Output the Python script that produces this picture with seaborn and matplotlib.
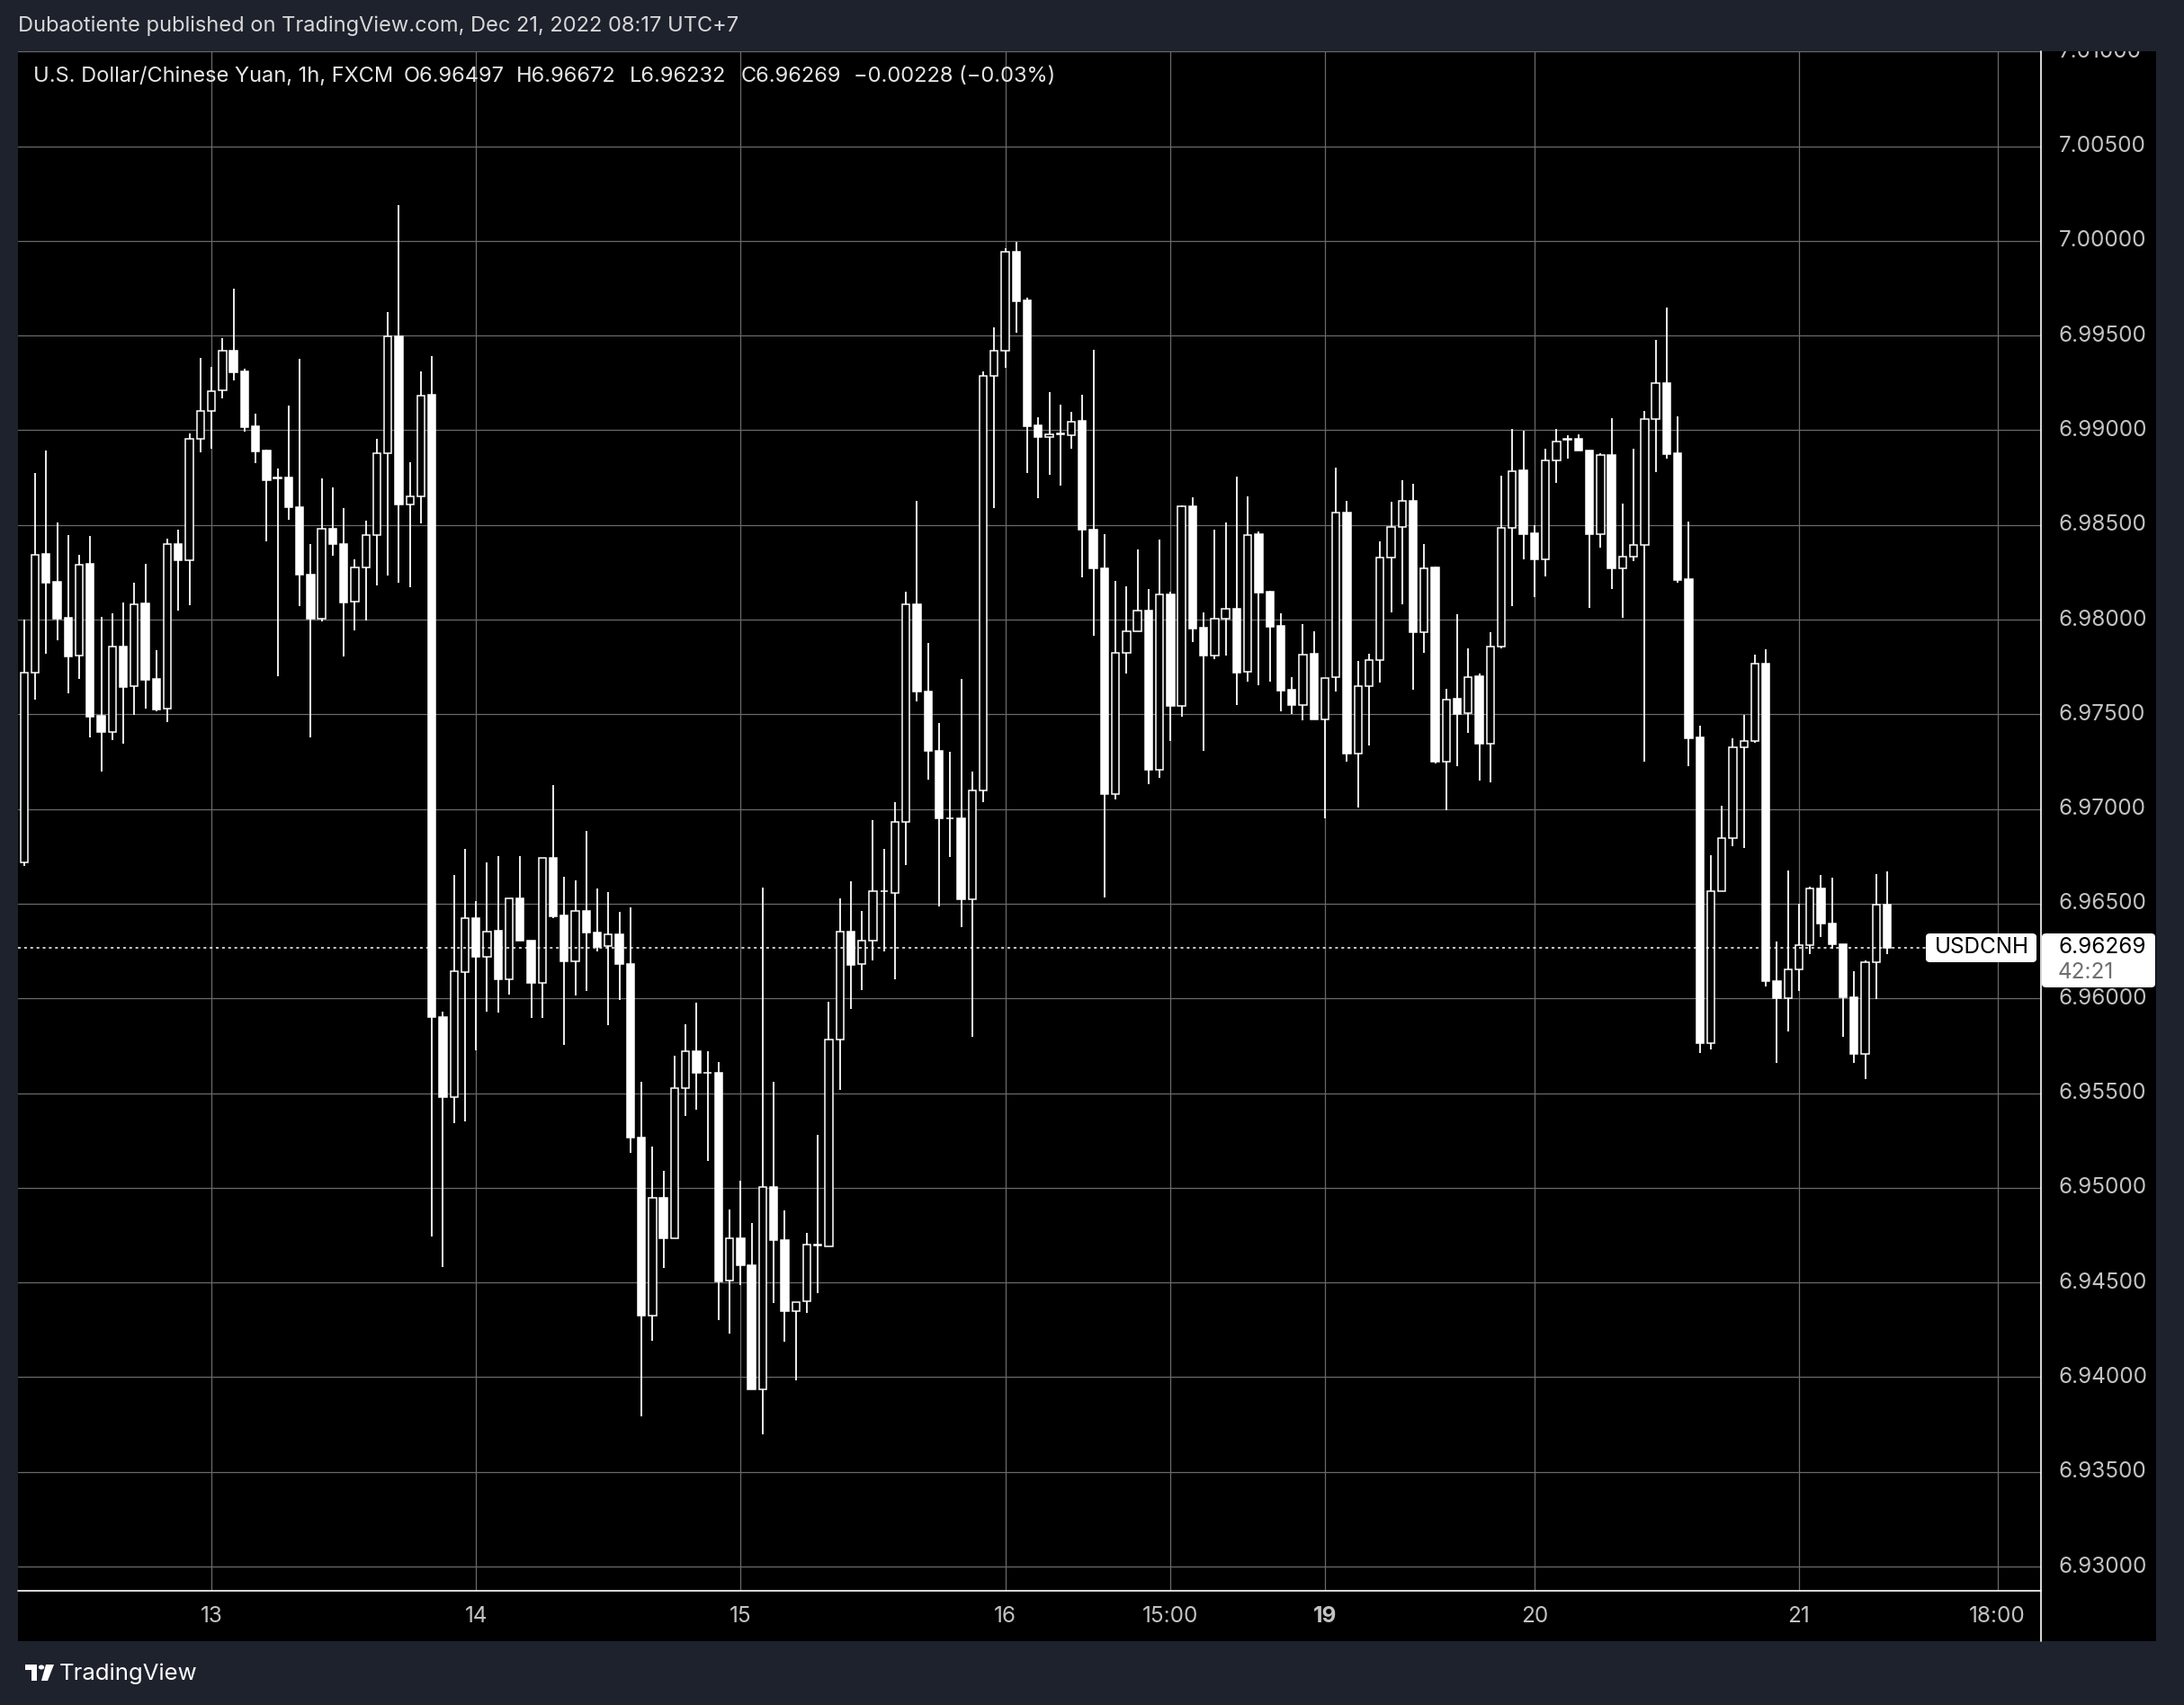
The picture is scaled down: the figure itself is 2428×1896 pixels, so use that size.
import numpy as np
import pandas as pd
import seaborn as sns
import matplotlib.pyplot as plt
from matplotlib.patches import Rectangle, FancyBboxPatch, Circle, Polygon
from matplotlib.transforms import blended_transform_factory

# USDCNH 1h candles, Dec 12 07:00 .. Dec 21 08:00 (UTC+7)
opens = [6.96720, 6.97719, 6.98347, 6.98200, 6.98009, 6.97808, 6.98295, 6.97491, 6.97408, 6.97860,
         6.97650, 6.98085, 6.97686, 6.97528, 6.98398, 6.98315, 6.98955, 6.99101, 6.99210, 6.99418,
         6.99312, 6.99022, 6.98894, 6.98746, 6.98751, 6.98594, 6.98239, 6.98005, 6.98480, 6.98400,
         6.98095, 6.98276, 6.98446, 6.98878, 6.99495, 6.98607, 6.98650, 6.99186, 6.95901, 6.95478,
         6.96139, 6.96423, 6.96218, 6.96357, 6.96099, 6.96526, 6.96305, 6.96080, 6.96741, 6.96439,
         6.96196, 6.96463, 6.96349, 6.96275, 6.96338, 6.96180, 6.95267, 6.94327, 6.94948, 6.94735,
         6.95527, 6.95722, 6.95606, 6.95606, 6.94508, 6.94731, 6.94593, 6.93937, 6.95005, 6.94725,
         6.94347, 6.94400, 6.94696, 6.94690, 6.95785, 6.96354, 6.96180, 6.96303, 6.96565, 6.96556,
         6.96930, 6.98081, 6.97618, 6.97309, 6.96949, 6.96949, 6.96522, 6.97096, 6.99289, 6.99419,
         6.99944, 6.99688, 6.99024, 6.98966, 6.98980, 6.98973, 6.99051, 6.98475, 6.98271, 6.97079,
         6.97825, 6.97938, 6.98048, 6.97205, 6.98133, 6.97543, 6.98597, 6.97955, 6.97811, 6.98005,
         6.98058, 6.97723, 6.98449, 6.98147, 6.97966, 6.97628, 6.97549, 6.97818, 6.97473, 6.97695,
         6.98563, 6.97292, 6.97649, 6.97788, 6.98326, 6.98491, 6.98628, 6.97934, 6.98274, 6.97250,
         6.97581, 6.97505, 6.97700, 6.97347, 6.97859, 6.98486, 6.98786, 6.98454, 6.98318, 6.98842,
         6.98951, 6.98955, 6.98895, 6.98452, 6.98870, 6.98269, 6.98332, 6.98394, 6.99059, 6.99251,
         6.98877, 6.98212, 6.97378, 6.95765, 6.96565, 6.96844, 6.97326, 6.97360, 6.97769, 6.96092,
         6.96000, 6.96153, 6.96281, 6.96580, 6.96396, 6.96284, 6.96006, 6.95707, 6.96192, 6.96497]
highs = [6.98000, 6.98773, 6.98894, 6.98513, 6.98447, 6.98342, 6.98442, 6.98014, 6.98033, 6.98090,
         6.98193, 6.98293, 6.97838, 6.98426, 6.98475, 6.98985, 6.99382, 6.99335, 6.99487, 6.99748,
         6.99324, 6.99088, 6.98897, 6.98798, 6.99131, 6.99375, 6.98400, 6.98746, 6.98698, 6.98591,
         6.98319, 6.98523, 6.98956, 6.99622, 7.00191, 6.98830, 6.99312, 6.99390, 6.95930, 6.96653,
         6.96788, 6.96515, 6.96719, 6.96752, 6.96530, 6.96752, 6.96305, 6.96741, 6.97126, 6.96643,
         6.96624, 6.96885, 6.96581, 6.96562, 6.96458, 6.96480, 6.95558, 6.95216, 6.95088, 6.95696,
         6.95862, 6.95976, 6.95720, 6.95663, 6.94885, 6.95036, 6.94814, 6.96587, 6.95558, 6.94879,
         6.94396, 6.94760, 6.95279, 6.95982, 6.96530, 6.96618, 6.96463, 6.96941, 6.96787, 6.97034,
         6.98146, 6.98629, 6.97876, 6.97455, 6.97301, 6.97685, 6.97197, 6.99309, 6.99542, 6.99963,
         6.99992, 6.99702, 6.99070, 6.99203, 6.99134, 6.99097, 6.99187, 6.99426, 6.98450, 6.98204,
         6.98176, 6.98372, 6.98163, 6.98424, 6.98147, 6.98601, 6.98647, 6.98040, 6.98473, 6.98513,
         6.98754, 6.98651, 6.98465, 6.98151, 6.98032, 6.97695, 6.97975, 6.97937, 6.97692, 6.98801,
         6.98627, 6.97780, 6.97818, 6.98413, 6.98622, 6.98734, 6.98718, 6.98397, 6.98279, 6.97633,
         6.98030, 6.97847, 6.97717, 6.97932, 6.98758, 6.99008, 6.98995, 6.98497, 6.98900, 6.99008,
         6.98972, 6.98980, 6.98895, 6.98877, 6.99062, 6.98614, 6.98901, 6.99103, 6.99475, 6.99648,
         6.99072, 6.98520, 6.97439, 6.96756, 6.97017, 6.97372, 6.97495, 6.97813, 6.97842, 6.96302,
         6.96676, 6.96498, 6.96592, 6.96652, 6.96638, 6.96284, 6.96144, 6.96201, 6.96658, 6.96672]
lows = [6.96700, 6.97578, 6.97821, 6.97892, 6.97612, 6.97688, 6.97377, 6.97198, 6.97364, 6.97345,
        6.97497, 6.97531, 6.97518, 6.97459, 6.98049, 6.98075, 6.98881, 6.98900, 6.99167, 6.99261,
        6.98994, 6.98824, 6.98411, 6.97700, 6.98526, 6.98072, 6.97380, 6.97989, 6.98339, 6.97806,
        6.97941, 6.97997, 6.98180, 6.98231, 6.98196, 6.98171, 6.98507, 6.94744, 6.94580, 6.95339,
        6.95350, 6.95728, 6.95929, 6.95924, 6.96020, 6.96303, 6.95896, 6.95896, 6.96426, 6.95753,
        6.96014, 6.96038, 6.96246, 6.95858, 6.95990, 6.95184, 6.93795, 6.94193, 6.94577, 6.94735,
        6.95377, 6.95411, 6.95141, 6.94301, 6.94229, 6.94485, 6.93937, 6.93697, 6.94390, 6.94189,
        6.93982, 6.94337, 6.94445, 6.94690, 6.95519, 6.95944, 6.96045, 6.96199, 6.96247, 6.96101,
        6.96705, 6.97570, 6.97154, 6.96486, 6.96747, 6.96376, 6.95798, 6.97034, 6.98590, 6.99331,
        6.99514, 6.98775, 6.98640, 6.98764, 6.98709, 6.98904, 6.98222, 6.97915, 6.96534, 6.97049,
        6.97715, 6.97938, 6.97129, 6.97164, 6.97359, 6.97487, 6.97882, 6.97308, 6.97792, 6.97811,
        6.97549, 6.97673, 6.97654, 6.97673, 6.97517, 6.97501, 6.97470, 6.97473, 6.96951, 6.97620,
        6.97251, 6.97007, 6.97335, 6.97668, 6.98037, 6.98081, 6.97630, 6.97825, 6.97239, 6.96994,
        6.97227, 6.97402, 6.97151, 6.97141, 6.97848, 6.98070, 6.98318, 6.98117, 6.98228, 6.98722,
        6.98848, 6.98893, 6.98061, 6.98378, 6.98160, 6.98009, 6.98307, 6.97249, 6.98778, 6.98849,
        6.98196, 6.97224, 6.95712, 6.95730, 6.96565, 6.96805, 6.96793, 6.97351, 6.96064, 6.95659,
        6.95824, 6.96037, 6.96236, 6.96325, 6.96260, 6.95796, 6.95659, 6.95573, 6.95996, 6.96232]
closes = [6.97720, 6.98344, 6.98196, 6.98006, 6.97807, 6.98291, 6.97488, 6.97407, 6.97859, 6.97645,
          6.98082, 6.97683, 6.97526, 6.98398, 6.98315, 6.98953, 6.99100, 6.99208, 6.99418, 6.99308,
          6.99017, 6.98889, 6.98738, 6.98746, 6.98594, 6.98236, 6.98005, 6.98480, 6.98398, 6.98092,
          6.98276, 6.98446, 6.98877, 6.99495, 6.98607, 6.98649, 6.99184, 6.95901, 6.95478, 6.96142,
          6.96423, 6.96218, 6.96354, 6.96099, 6.96526, 6.96303, 6.96080, 6.96741, 6.96434, 6.96194,
          6.96461, 6.96346, 6.96270, 6.96338, 6.96180, 6.95263, 6.94325, 6.94948, 6.94735, 6.95527,
          6.95722, 6.95606, 6.95606, 6.94504, 6.94731, 6.94591, 6.93937, 6.95005, 6.94725, 6.94347,
          6.94396, 6.94701, 6.94696, 6.95785, 6.96352, 6.96177, 6.96303, 6.96565, 6.96565, 6.96930,
          6.98081, 6.97618, 6.97309, 6.96949, 6.96949, 6.96522, 6.97096, 6.99289, 6.99419, 6.99944,
          6.99683, 6.99022, 6.98962, 6.98980, 6.98980, 6.99047, 6.98475, 6.98271, 6.97079, 6.97825,
          6.97938, 6.98048, 6.97205, 6.98133, 6.97543, 6.98597, 6.97951, 6.97811, 6.98005, 6.98058,
          6.97720, 6.98446, 6.98143, 6.97963, 6.97625, 6.97549, 6.97815, 6.97473, 6.97692, 6.98563,
          6.97292, 6.97649, 6.97788, 6.98326, 6.98490, 6.98627, 6.97934, 6.98271, 6.97250, 6.97578,
          6.97502, 6.97696, 6.97345, 6.97859, 6.98486, 6.98783, 6.98451, 6.98318, 6.98842, 6.98940,
          6.98951, 6.98893, 6.98452, 6.98870, 6.98269, 6.98332, 6.98394, 6.99059, 6.99251, 6.98873,
          6.98209, 6.97374, 6.95765, 6.96565, 6.96844, 6.97326, 6.97360, 6.97769, 6.96089, 6.96000,
          6.96153, 6.96281, 6.96580, 6.96393, 6.96284, 6.96004, 6.95707, 6.96192, 6.96494, 6.96269]

# time axis: bar index -> label
time_ticks = [17, 41, 65, 89, 104, 118, 137, 161, 179]
time_labels = ['13', '14', '15', '16', '15:00', '19', '20', '21', '18:00']
price_ticks = [6.930, 6.935, 6.940, 6.945, 6.950, 6.955, 6.960, 6.965, 6.970,
               6.975, 6.980, 6.985, 6.990, 6.995, 7.000, 7.005, 7.010]
last_price = 6.96269
legend_items = ['O6.96497', 'H6.96672', 'L6.96232', 'C6.96269', '\u22120.00228 (\u22120.03%)']
legend_x = [449, 574, 700, 824, 949]

sns.set_theme(style='dark')
plt.rcParams['font.family'] = ['Inter', 'DejaVu Sans']

W, H = 2428, 1896
BG = '#1e222d'
GRID = '#6a6a6a'
AXTXT = '#c3c3c3'
FS = 17.5


def fx(px):
    return px / W


def fy(py):
    return 1 - py / H


df = pd.DataFrame({'open': opens, 'high': highs, 'low': lows, 'close': closes})
df['idx'] = np.arange(len(df))
df['up'] = df['close'] >= df['open']
df['bottom'] = df[['open', 'close']].min(axis=1)
df['height'] = (df['close'] - df['open']).abs().clip(lower=0.00003)

fig = plt.figure(figsize=(W / 100, H / 100), dpi=100)
fig.patch.set_facecolor(BG)

# black chart panel (plot + price scale + time scale)
fig.add_artist(Rectangle((fx(20), fy(1825)), fx(2397) - fx(20), fy(57) - fy(1825),
                         transform=fig.transFigure, facecolor='black', edgecolor='none', zorder=0))

ax = fig.add_axes([fx(20), fy(1769), fx(2269) - fx(20), fy(57) - fy(1769)])
ax.set_facecolor('black')
ax.set_xlim(-0.55, 182.95)
ax.set_ylim(6.92872, 7.01001)
for s in ax.spines.values():
    s.set_visible(False)
ax.set_xticks([])
ax.set_yticks([])
ax.grid(False)

for p in price_ticks:
    ax.axhline(p, color=GRID, lw=0.9, zorder=1)
for t in time_ticks:
    ax.axvline(t, color=GRID, lw=0.9, zorder=1)

# wicks
ax.vlines(df['idx'], df['low'], df['high'], color='white', lw=1.3, zorder=2)
# bodies: up = hollow, down = filled
up = df[df['up']]
dn = df[~df['up']]
ax.bar(up['idx'], up['height'], bottom=up['bottom'], width=0.68,
       facecolor='black', edgecolor='white', linewidth=1.1, zorder=3)
ax.bar(dn['idx'], dn['height'], bottom=dn['bottom'], width=0.68,
       facecolor='white', edgecolor='white', linewidth=1.1, zorder=3)

# last price dotted line up to the symbol tag
ax.plot([-0.55, (2141 - 26.8) / 12.25], [last_price, last_price], color='white',
        lw=1.1, linestyle=(0, (2, 2.5)), zorder=4)

# header inside the chart
fig.text(fx(37), fy(85), 'U.S. Dollar/Chinese Yuan, 1h, FXCM', color='#e6e6e6',
         fontsize=FS - 0.5, ha='left', va='center', zorder=6)
for lab, x in zip(legend_items, legend_x):
    fig.text(fx(x), fy(85), lab, color='#e6e6e6', fontsize=FS - 0.5, ha='left', va='center', zorder=6)

# time scale labels
trans = blended_transform_factory(ax.transData, ax.transAxes)
for t, lab in zip(time_ticks, time_labels):
    ax.text(t, -(1798 - 1769) / 1712, lab, transform=trans, ha='center', va='center',
            color=AXTXT, fontsize=FS, fontweight='bold' if lab == '19' else 'normal',
            clip_on=False)

# price scale
pax = fig.add_axes([fx(2269), fy(1769), fx(2397) - fx(2269), fy(57) - fy(1769)])
pax.set_facecolor('black')
pax.set_ylim(ax.get_ylim())
pax.set_xlim(0, 1)
pax.axis('off')
for p in price_ticks:
    pax.text(0.155, p, f'{p:.5f}', color=AXTXT, fontsize=FS, ha='left', va='center',
             clip_on=True)

# separator lines
fig.add_artist(plt.Line2D([fx(2269), fx(2269)], [fy(57), fy(1825)], color='white', lw=1.2,
                          transform=fig.transFigure, zorder=5))
fig.add_artist(plt.Line2D([fx(20), fx(2269)], [fy(1769), fy(1769)], color='white', lw=1.2,
                          transform=fig.transFigure, zorder=5))

# symbol tag and price tag
fig.add_artist(FancyBboxPatch((fx(2141), fy(1070)), fx(2264) - fx(2141), fy(1038) - fy(1070),
                              boxstyle='round,pad=0,rounding_size=0.002', transform=fig.transFigure,
                              facecolor='white', edgecolor='none', zorder=7))
fig.text(fx(2203), fy(1054), 'USDCNH', color='black', fontsize=FS, ha='center', va='center', zorder=8)
fig.add_artist(FancyBboxPatch((fx(2270), fy(1098)), fx(2396) - fx(2270), fy(1038) - fy(1098),
                              boxstyle='round,pad=0,rounding_size=0.002', transform=fig.transFigure,
                              facecolor='white', edgecolor='none', zorder=7))
fig.text(fx(2288), fy(1053), '6.96269', color='black', fontsize=FS, ha='left', va='center', zorder=8)
fig.text(fx(2288), fy(1082), '42:21', color='#6f6f6f', fontsize=FS, ha='left', va='center', zorder=8)

# top attribution
fig.text(fx(20), fy(29), 'Dubaotiente published on TradingView.com, Dec 21, 2022 08:17 UTC+7',
         color='#d8d8d8', fontsize=FS - 0.5, ha='left', va='center')

# footer logo + name
fig.add_artist(Polygon([[fx(28), fy(1851)], [fx(41), fy(1851)], [fx(41), fy(1869)],
                        [fx(35), fy(1869)], [fx(35), fy(1857)], [fx(28), fy(1857)]],
                       closed=True, transform=fig.transFigure, facecolor='white', edgecolor='none'))
fig.add_artist(Circle((fx(46), fy(1854)), 3.2 / W, transform=fig.transFigure,
                      facecolor='white', edgecolor='none'))
fig.add_artist(Polygon([[fx(51), fy(1851)], [fx(60), fy(1851)], [fx(53), fy(1869)], [fx(46), fy(1869)]],
                       closed=True, transform=fig.transFigure, facecolor='white', edgecolor='none'))
fig.text(fx(66), fy(1861), 'TradingView', color='white', fontsize=18.5, ha='left', va='center')

fig.savefig('out.png', dpi=100, facecolor=BG)
